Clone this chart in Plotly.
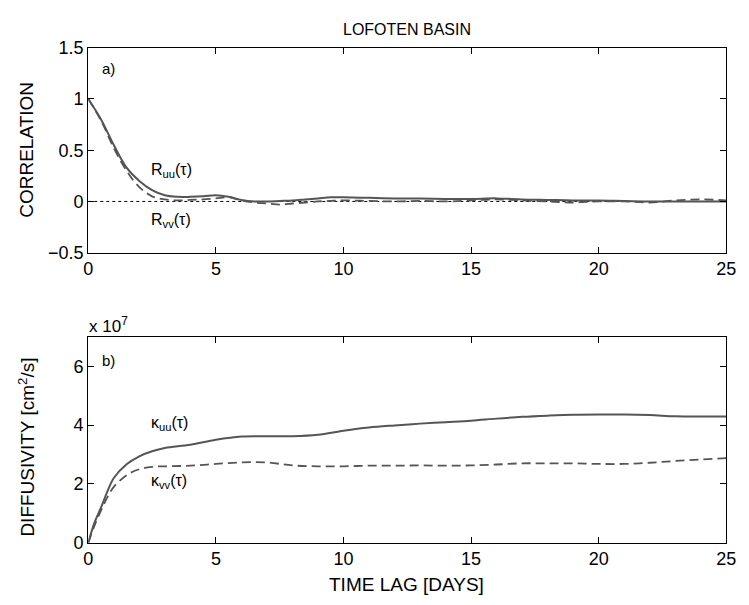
import plotly.graph_objects as go

# ---- data ----
lag_days = [0, 0.5, 1, 1.5, 2, 2.5, 3, 3.5, 4, 4.5, 5, 5.5, 6, 6.5, 7, 7.5, 8, 8.5, 9, 9.5,
            10, 11, 12, 13, 14, 15, 16, 17, 18, 19, 20, 21, 22, 23, 24, 25]
r_uu = [1.0, 0.80, 0.55, 0.33, 0.20, 0.11, 0.06, 0.045, 0.045, 0.05, 0.06, 0.045, 0.015, 0.0, 0.0, 0.005,
        0.01, 0.02, 0.03, 0.04, 0.04, 0.035, 0.03, 0.028, 0.025, 0.025, 0.03, 0.02, 0.015, 0.01,
        0.01, 0.005, 0.0, 0.0, 0.0, 0.0]
r_vv = [1.0, 0.79, 0.52, 0.30, 0.14, 0.05, 0.02, 0.01, 0.015, 0.02, 0.03, 0.04, 0.01, -0.01, -0.02, -0.03,
        -0.02, -0.01, 0.0, 0.005, 0.01, 0.005, 0.0, 0.005, 0.0, 0.01, 0.02, 0.01, 0.0, -0.01,
        0.0, 0.0, -0.01, 0.01, 0.02, 0.01]
kappa_lag = [0, 0.25, 0.5, 0.75, 1, 1.5, 2, 2.5, 3, 4, 5, 6, 7, 8, 9, 10, 11, 12, 13, 14, 15,
             16, 17, 18, 19, 20, 21, 22, 23, 24, 25]
kappa_uu_1e7 = [0, 0.7, 1.2, 1.75, 2.2, 2.67, 2.94, 3.11, 3.22, 3.33, 3.5, 3.61, 3.62, 3.62, 3.67, 3.81,
                3.92, 3.99, 4.05, 4.1, 4.15, 4.22, 4.28, 4.32, 4.35, 4.36, 4.36, 4.34, 4.3, 4.29, 4.29]
kappa_vv_1e7 = [0, 0.6, 1.1, 1.55, 1.9, 2.3, 2.5, 2.58, 2.6, 2.62, 2.68, 2.73, 2.73, 2.63, 2.6, 2.6,
                2.62, 2.62, 2.63, 2.62, 2.63, 2.66, 2.7, 2.7, 2.7, 2.68, 2.68, 2.72, 2.78, 2.83, 2.88]
x_ticks = [0, 5, 10, 15, 20, 25]
corr_ticks = [-0.5, 0, 0.5, 1, 1.5]
corr_tick_text = ["\u22120.5", "0", "0.5", "1", "1.5"]
kappa_ticks = [0, 2, 4, 6]

LINE = "#555555"
FONT = "Liberation Sans, Arial, Helvetica, sans-serif"
DASH = "9px,5px"

fig = go.Figure()
fig.add_trace(go.Scatter(x=[0, 25], y=[0, 0], mode="lines",
                         line=dict(color="black", width=1, dash="dot"),
                         xaxis="x", yaxis="y", showlegend=False))
fig.add_trace(go.Scatter(x=lag_days, y=r_vv, mode="lines", line_shape="spline",
                         line=dict(color=LINE, width=1.8, dash=DASH),
                         xaxis="x", yaxis="y", showlegend=False))
fig.add_trace(go.Scatter(x=lag_days, y=r_uu, mode="lines", line_shape="spline",
                         line=dict(color=LINE, width=2),
                         xaxis="x", yaxis="y", showlegend=False))
fig.add_trace(go.Scatter(x=kappa_lag, y=kappa_uu_1e7, mode="lines", line_shape="spline",
                         line=dict(color=LINE, width=2),
                         xaxis="x2", yaxis="y2", showlegend=False))
fig.add_trace(go.Scatter(x=kappa_lag, y=kappa_vv_1e7, mode="lines", line_shape="spline",
                         line=dict(color=LINE, width=1.8, dash=DASH),
                         xaxis="x2", yaxis="y2", showlegend=False))

axis_common = dict(showgrid=False, zeroline=False, showline=True, linecolor="black",
                   linewidth=1.2, mirror="ticks", ticks="inside", ticklen=6,
                   tickcolor="black", tickfont=dict(family=FONT, size=18, color="black"))

xdom = [85 / 749, 736 / 749]
fig.update_layout(
    width=749, height=605,
    margin=dict(l=0, r=0, t=0, b=0),
    paper_bgcolor="white", plot_bgcolor="white",
    font=dict(family=FONT, color="black"),
    xaxis=dict(domain=xdom, range=[0, 25], tickvals=x_ticks, anchor="y", **axis_common),
    yaxis=dict(domain=[1 - 251 / 605, 1 - 39 / 605], range=[-0.5, 1.5], tickvals=corr_ticks,
               ticktext=corr_tick_text, anchor="x", **axis_common),
    xaxis2=dict(domain=xdom, range=[0, 25], tickvals=x_ticks, anchor="y2", **axis_common),
    yaxis2=dict(domain=[1 - 551 / 605, 1 - 338 / 605], range=[0, 7], tickvals=kappa_ticks,
                anchor="x2", **axis_common),
)

def ann(text, x, y, size=15, xanchor="center", yanchor="middle", textangle=0):
    fig.add_annotation(text=text, x=x / 749, y=1 - y / 605, xref="paper", yref="paper",
                       showarrow=False, xanchor=xanchor, yanchor=yanchor, textangle=textangle,
                       font=dict(family=FONT, size=size, color="black"))

ann("LOFOTEN BASIN", 410, 20, size=16)
ann("CORRELATION", 22, 145, size=19, textangle=-90)
ann("DIFFUSIVITY [cm<sup>2</sup>/s]", 22, 452, size=19, textangle=-90)
ann("TIME LAG [DAYS]", 410, 594, size=19)
ann("x 10<sup>7</sup>", 84, 326, size=17, xanchor="left")
ann("a)", 97, 60, size=15, xanchor="left")
ann("b)", 97, 362, size=15, xanchor="left")
ann("R<sub>uu</sub>(\u03c4)", 147, 166, size=16, xanchor="left")
ann("R<sub>vv</sub>(\u03c4)", 147, 218, size=16, xanchor="left")
ann("\u03ba<sub>uu</sub>(\u03c4)", 147, 428, size=16, xanchor="left")
ann("\u03ba<sub>vv</sub>(\u03c4)", 147, 488, size=16, xanchor="left")

fig.write_html("out.html")
